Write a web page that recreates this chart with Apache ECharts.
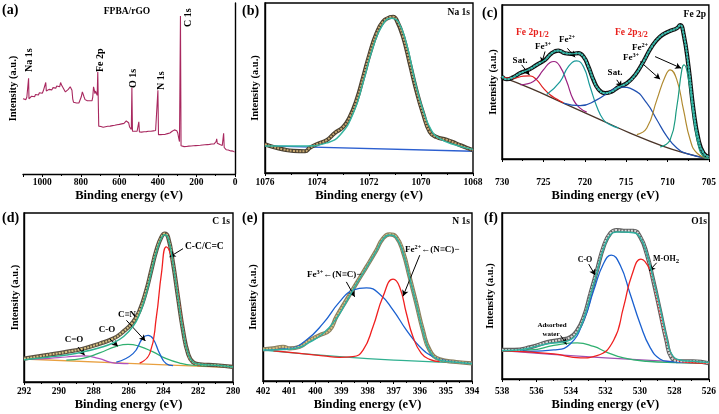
<!DOCTYPE html>
<html><head><meta charset="utf-8">
<script src="https://cdn.jsdelivr.net/npm/echarts@6/dist/echarts.min.js"></script>
<style>html,body{margin:0;padding:0;background:#fff}#c{width:719px;height:414px}</style>
</head><body><div id="c"></div>
<script>
const F = 'Liberation Serif';

// ---------- (a) survey ----------
const aSurvey = [[1100,44],[1095,43.2],[1090,44.5],[1085,43.5],[1080,45],[1075,44],[1073,44.5],[1071,56],[1069,44],[1065,45],[1060,44.2],[1055,45.5],[1050,44.5],[1045,46],[1040,45.2],[1035,46.5],[1030,45.5],[1025,47],[1020,46.2],[1015,47.5],[1010,46.5],[1005,48],[1000,47.2],[995,48.5],[990,47.5],[985,49],[982,53.5],[979,48.5],[975,49],[970,48.2],[965,49.5],[960,48.8],[955,50],[950,49.2],[945,50.5],[940,49.5],[935,51],[930,50.2],[925,51.5],[920,50.5],[915,52],[910,51],[905,53.5],[900,52],[895,51.5],[890,50],[885,49],[880,48],[875,48.5],[870,48.8],[865,49.5],[860,50.5],[855,51],[850,50.5],[846,49],[842,44],[838,42],[834,41.5],[828,41],[822,41.5],[816,41],[810,41.5],[804,42.5],[798,45],[792,48],[788,47.5],[783,45],[778,43.5],[772,42.5],[766,42.8],[760,42.2],[754,42.8],[748,42.3],[742,42.8],[738,45],[734,51],[730,49],[727,47],[724,48.5],[721,49.5],[718,47.5],[715,46],[712,59.8],[709,40],[707,28],[702,27.5],[696,27.8],[690,28],[684,27.3],[678,28.2],[672,27.6],[666,28.5],[660,27.9],[654,28.6],[648,28],[642,28.8],[636,28.3],[630,29],[624,28.5],[618,29.3],[612,28.8],[606,29.5],[600,29],[594,29.8],[588,29.3],[582,30],[576,29.6],[570,30.5],[564,31],[558,30.6],[552,30],[547,27.5],[542,26.5],[538,26],[535,50.5],[532,25],[526,24.6],[520,25],[514,24.4],[508,25],[502,24.5],[499,30.5],[496,24.6],[490,25],[484,24.5],[478,25.2],[472,24.7],[466,25.4],[460,24.8],[454,25.5],[448,25],[442,25.6],[436,25],[430,25.7],[424,25.2],[418,26],[412,25.4],[406,26],[403,25.5],[400,49],[397,23],[392,22.6],[386,23],[380,22.5],[374,23.1],[368,22.6],[362,23.2],[356,23],[350,23.6],[344,23.3],[338,24],[332,24.5],[326,25],[320,25.2],[314,25.8],[308,26],[302,25.3],[297,24],[292,21],[288,19],[285,20],[283,92.4],[280,16.5],[276,16.2],[270,16.5],[264,16],[258,16.6],[252,16.1],[246,16.7],[240,16.3],[234,16.8],[228,16.4],[222,16.9],[216,16.5],[210,17],[204,16.6],[198,17.1],[192,16.7],[186,17.2],[180,16.8],[174,17.3],[168,17],[162,17.4],[156,17.1],[150,17.5],[144,17.2],[138,17.6],[132,17.3],[126,17.8],[120,17.5],[114,17.9],[108,17.6],[102,18],[98,19],[95,20.5],[92,18],[88,17.2],[84,17],[78,17.2],[72,16.8],[66,16.7],[62,17],[59,23.8],[56,15.5],[52,14.5],[46,14.2],[40,14.5],[35,14],[30,13.6],[26,14.6],[22,13.5],[18,14.2],[14,13.6],[10,13.4],[6,13],[2,12.8],[0,12.5]];

// ---------- (b) Na 1s ----------
const bData = [[1076,16.9],[1075.68,15.3],[1075.3,13.9],[1074.91,13.0],[1074.46,12.8],[1074.27,14.9],[1073.95,17.3],[1073.63,19.3],[1073.31,23.6],[1072.99,27.1],[1072.74,33.0],[1072.48,42.8],[1072.22,56.6],[1071.97,70.3],[1071.71,82.1],[1071.46,89.0],[1071.2,91.6],[1071.07,91.9],[1070.94,90.0],[1070.69,80.2],[1070.43,64.4],[1070.18,48.7],[1069.92,35.0],[1069.66,24.2],[1069.41,21.2],[1069.02,19.6],[1068.64,17.3],[1068.26,14.9],[1068,13.4]];
const bFit = [[1076,15.9],[1075,15.9],[1074.4,15.9],[1073.63,17.7],[1073.12,22.2],[1072.61,35.0],[1072.22,53.6],[1071.84,74.3],[1071.46,87.6],[1071.14,91.0],[1070.88,89.0],[1070.56,76.2],[1070.24,54.6],[1069.92,36.9],[1069.6,25.1],[1069.28,20.2],[1068.64,16.3],[1068,13.9]];
const bBack = [[1076,15.9],[1068,12.8]];

// ---------- (c) Fe 2p ----------
const cData = [[730,53.6],[729.44,51.8],[728.63,53.1],[727.82,55.7],[726.81,57.9],[725.81,61.1],[724.8,64.4],[724.0,68.7],[723.19,70.4],[722.38,68.7],[721.57,68.3],[720.77,68.7],[720.16,66.5],[719.56,60.0],[718.95,51.4],[718.35,45.4],[717.54,42.8],[716.73,43.8],[715.93,46.7],[714.92,49.2],[713.91,54.6],[712.9,63.3],[711.9,73.0],[710.89,79.5],[709.88,82.7],[708.87,84.9],[708.47,87.0],[708.07,81.6],[707.46,60.0],[706.86,32.0],[706.25,12.5],[705.65,3.9],[705.0,1.3]];
const cBase = [[730,53.1],[726.61,46.0],[722.58,36.3],[718.55,26.6],[714.52,16.8],[710.49,8.2],[707.66,3.5],[705,0.2]];
const cSat1 = [[730,53.1],[728.63,52.5],[727.42,53.8],[726.61,54.0],[725.81,51.4],[725.0,46.0],[724.19,41.7],[723.39,38.9],[722.58,36.5]];
const cFe3a = [[727.82,48.2],[726.21,50.3],[725.0,57.9],[724.19,62.6],[723.71,63.3],[722.98,60.0],[722.18,50.3],[721.37,38.4],[720.57,33.0],[719.76,30.4]];
const cFe2a = [[724.6,41.9],[722.98,50.3],[721.98,60.0],[720.97,63.7],[720.16,60.0],[719.36,47.1],[718.55,34.1],[717.74,25.5],[716.94,22.2],[715.93,20.1]];
const cSat2 = [[722.58,36.3],[720.57,34.6],[718.55,38.4],[716.94,43.8],[715.73,46.7],[714.11,44.9],[712.5,36.3],[711.29,25.5],[710.08,14.7],[708.87,7.1],[707.66,3.5],[705,0.2]];
const cFe3b = [[713.71,15.8],[712.5,20.1],[711.29,38.4],[710.28,53.6],[709.68,57.9],[708.87,51.4],[708.07,32.0],[707.26,12.5],[706.45,3.9],[705.0,0.2]];
const cFe2b = [[710.89,7.8],[709.68,12.5],[708.87,34.1],[708.27,57.9],[707.99,61.1],[707.46,51.4],[706.86,27.6],[706.25,8.2],[705.65,1.7],[705,0.2]];
const cArrows = [[[727.62,61.1],[726.69,54.6]],[[724.8,69.8],[725.2,62.2]],[[722.1,71.9],[721.17,66.1]],[[716.13,51.4],[715.53,46.7]],[[713.31,63.3],[710.89,51.8]],[[711.5,66.5],[708.35,59.0]]];

// ---------- (d) C 1s ----------
const dData = [[292,13.8],[290.53,16.2],[289.57,17.8],[288.61,19.7],[287.66,22.7],[286.89,25.6],[286.32,29.6],[285.74,35.5],[285.36,42.4],[284.98,54.2],[284.69,66.1],[284.40,77.9],[284.11,85.8],[283.92,87.8],[283.73,85.8],[283.44,70.0],[283.16,50.3],[282.87,30.6],[282.58,16.8],[282.30,11.8],[281.91,10.5],[280.96,9.9],[280,8.9]];
const dFit = [[292,13.2],[290.53,14.8],[289.57,16.0],[288.61,17.8],[287.66,20.3],[286.89,23.1],[286.32,26.6],[285.74,32.9],[285.36,40.4],[284.98,52.3],[284.69,65.1],[284.40,76.9],[284.11,85.2],[283.92,87.2],[283.73,85.4],[283.44,70.0],[283.16,50.3],[282.87,30.6],[282.58,16.8],[282.30,11.8],[281.91,10.5],[280.96,9.9],[280,8.9]];
const dBase = [[292,13.6],[286,11.0],[280,8.5]];
const dCdO = [[291.5,13.5],[290.53,14.0],[289.57,14.8],[288.61,15.4],[287.66,13.8],[287.08,11.8],[286.51,11.0],[286,10.9]];
const dCO = [[289.57,13.0],[288.61,14.0],[287.66,17.2],[286.70,21.1],[286.03,22.3],[285.36,21.1],[284.59,17.8],[283.83,13.8],[283.06,11.2],[282.30,9.9],[281.5,9.6]];
const dCN = [[286.70,11.8],[285.74,16.8],[285.17,26.2],[284.88,27.6],[284.59,25.6],[284.21,16.8],[283.83,10.8],[283.44,9.7]];
const dCC = [[285.36,11.2],[284.78,16.8],[284.40,38.5],[284.11,64.1],[283.83,79.9],[283.54,74.0],[283.25,58.2],[282.97,38.5],[282.68,20.7],[282.39,12.8],[281.91,9.9]];
const dArrows = [[[282.87,78.9],[283.64,74.0]],[[286.12,36.5],[285.03,24.3]],[[287.08,25.6],[286.61,21.1]],[[288.9,20.7],[288.52,15.8]]];

// ---------- (e) N 1s ----------
const eData = [[402,18.8],[401.62,19.4],[401.23,20.4],[400.98,19.4],[400.6,20.4],[400.21,24.4],[399.83,27.3],[399.45,30.3],[399.19,38.2],[398.81,48.1],[398.43,58.0],[398.04,67.9],[397.66,77.8],[397.41,84.8],[397.15,87.3],[396.90,85.7],[396.64,76.8],[396.39,62.0],[396.13,46.1],[395.88,30.3],[395.62,18.4],[395.24,12.9],[394.6,11.3],[394,10.5]];
const eFit = [[402,18.4],[401.23,18.8],[400.6,20.0],[400.34,22.0],[399.70,28.3],[399.19,37.2],[398.81,47.1],[398.43,57.6],[398.04,67.5],[397.66,77.4],[397.41,84.4],[397.15,86.9],[396.90,85.3],[396.64,76.4],[396.39,61.6],[396.13,45.7],[395.88,29.9],[395.62,18.0],[395.24,12.5],[394.6,11.1],[394,10.3]];
const eBase = [[402,18.4],[399.07,14.5],[396.51,12.1],[394,10.5]];
const eFe3 = [[402,18.4],[400.98,19.4],[400.34,24.4],[399.70,34.3],[399.07,47.1],[398.56,54.1],[398.04,55.4],[397.53,51.7],[397.02,42.2],[396.51,30.3],[396.0,20.4],[395.49,14.5],[394.98,12.1],[394,10.5]];
const eFe2 = [[401.6,18.0],[400.6,16.4],[399.7,15.0],[399.07,14.1],[398.56,14.5],[398.17,18.4],[397.79,32.3],[397.41,50.1],[397.02,60.6],[396.77,56.0],[396.51,40.2],[396.26,26.3],[395.94,16.4],[395.62,12.9],[395.24,11.5]];
const eArrows = [[[398.81,59.0],[398.49,50.1]],[[396.0,74.9],[396.64,50.5]]];

// ---------- (f) O 1s ----------
const fData = [[538,17.5],[537.29,17.5],[536.33,19.2],[535.37,22.2],[534.60,23.6],[534.03,25.2],[533.64,29.2],[533.26,37.3],[532.87,51.4],[532.49,65.5],[532.11,79.6],[531.72,87.7],[531.34,89.7],[530.95,89.3],[530.38,89.3],[529.99,85.7],[529.61,75.6],[529.23,59.5],[528.84,41.3],[528.46,23.2],[528.17,13.1],[527.69,10.7],[526.92,10.7],[526,9.5]];
const fFit = [[538,17.1],[537.29,17.3],[536.33,18.8],[535.37,21.2],[534.6,22.2],[534.03,23.6],[533.64,27.6],[533.26,36.3],[532.87,50.4],[532.49,64.5],[532.11,78.6],[531.72,86.7],[531.34,88.5],[530.95,88.5],[530.38,88.1],[529.99,85.3],[529.61,76.0],[529.23,60.5],[528.84,43.3],[528.46,25.2],[528.17,15.1],[527.69,11.5],[526.92,10.7],[526,9.9]];
const fBase = [[538,17.1],[532,12.7],[526,9.5]];
const fWater = [[538,17.1],[536.33,17.5],[534.99,20.2],[533.64,21.8],[532.68,19.6],[531.91,16.1],[530.95,12.7],[529.61,10.7],[527.69,9.9],[526,9.5]];
const fCO = [[537,17.1],[536.33,16.7],[534.99,17.5],[534.03,21.2],[533.26,35.3],[532.68,53.4],[532.11,69.6],[531.66,74.6],[531.14,68.5],[530.57,51.4],[529.99,33.3],[529.42,19.2],[528.84,12.1],[528.27,10.5],[527,9.9]];
const fMOH = [[538,17.1],[535,15.1],[533.45,12.7],[532.49,14.1],[531.53,23.2],[530.95,43.3],[530.47,62.5],[529.94,72.2],[529.42,65.5],[529.03,49.4],[528.65,31.3],[528.27,17.1],[527.88,11.5],[527.31,10.1],[526,9.5]];
const fArrows = [[[532.97,69.2],[532.59,62.5]],[[529.03,70.0],[529.46,65.1]],[[534.6,26.2],[534.26,20.8]]];

// ---------- layout ----------
const grids = [
  {left:23, top:3, width:212, height:171, box:false, min:0, max:1100, iv:200, lm:4, ng:12, yg:4, maxLabel:false},
  {left:265, top:3, width:208, height:170, box:true, min:1068, max:1076, iv:2, lm:5, ng:16, yg:4, maxLabel:true},
  {left:502, top:5, width:207, height:154, box:true, min:705, max:730, iv:5, lm:19, ng:27, yg:3, maxLabel:true},
  {left:24, top:213, width:209, height:169, box:true, min:280, max:292, iv:2, lm:5, ng:16, yg:3, maxLabel:true},
  {left:263, top:213, width:209, height:168, box:true, min:394, max:402, iv:1, lm:6, ng:17, yg:4, maxLabel:true},
  {left:502, top:213, width:207, height:166, box:true, min:526, max:538, iv:2, lm:8, ng:18, yg:6, maxLabel:true}
];

const series = [];
function ln(g, data, color, width, extra) {
  const s = Object.assign({type:'line', xAxisIndex:g, yAxisIndex:g, data:data, symbol:'none', showSymbol:false,
    smooth:0.5, lineStyle:{color:color, width:width}, silent:true, animation:false}, extra||{});
  series.push(s);
}
function measured(g, data, dark, light) {
  ln(g, data, dark, 4.2, {z:2});
  ln(g, data, light, 2, {z:3, lineStyle:{color:light, width:2, type:[2,1.2]}});
}
function arrows(g, list) {
  series.push({type:'line', xAxisIndex:g, yAxisIndex:g, data:[], silent:true, animation:false,
    markLine:{silent:true, animation:false, symbol:['none','arrow'], symbolSize:[5,6],
      lineStyle:{color:'#000', width:1, type:'solid'}, label:{show:false},
      data:list.map(p => [{coord:p[0]},{coord:p[1]}])}});
}

// (a)
ln(0, aSurvey, '#a8285f', 1.1, {smooth:false});
// (b)
ln(1, bBack, '#2c5fd0', 1.3, {z:1});
measured(1, bData, '#4a4030', '#c8a870');
ln(1, bFit, '#35b5a0', 1.5, {z:5});
// (c)
ln(2, cBase, '#4a3428', 1.3, {z:1});
ln(2, cSat1, '#e02020', 1.2);
ln(2, cFe3a, '#9a2080', 1.2);
ln(2, cFe2a, '#1a9a9a', 1.2);
ln(2, cSat2, '#2050b0', 1.2);
ln(2, cFe3b, '#b08a30', 1.2);
ln(2, cFe2b, '#1a9a80', 1.2);
measured(2, cData, '#111111', '#5cc8c0');
ln(2, cData, '#2fb5a5', 1.2, {z:5});
arrows(2, cArrows);
// (d)
ln(3, dBase, '#e8a040', 1.3, {z:1});
ln(3, dCdO, '#b050c0', 1.2);
ln(3, dCO, '#30b070', 1.2);
ln(3, dCN, '#1a60d0', 1.3);
ln(3, dCC, '#f02020', 1.3);
measured(3, dData, '#5a5040', '#d8c080');
ln(3, dFit, '#30b090', 1.5, {z:5});
arrows(3, dArrows);
// (e)
ln(4, eBase, '#30b090', 1.3, {z:1});
ln(4, eFe3, '#1a60d0', 1.3);
ln(4, eFe2, '#f02020', 1.3);
measured(4, eData, '#8a8060', '#d8c080');
ln(4, eFit, '#30b0a0', 1.5, {z:5});
arrows(4, eArrows);
// (f)
ln(5, fBase, '#a050b0', 1.3, {z:1});
ln(5, fWater, '#30b070', 1.3);
ln(5, fCO, '#1a60d0', 1.3);
ln(5, fMOH, '#f02020', 1.3);
measured(5, fData, '#606060', '#d8d8d8');
ln(5, fFit, '#30b0a0', 1.5, {z:5});
arrows(5, fArrows);

const txt = {fontFamily:F, fontWeight:'bold', color:'#000'};
const option = {
  backgroundColor:'#fff', animation:false,
  grid: grids.map(g => ({left:g.left, top:g.top, width:g.width, height:g.height, show:g.box, borderColor:'#000', borderWidth:1.4, backgroundColor:'transparent'})),
  xAxis: grids.map((g,i) => ({type:'value', gridIndex:i, inverse:true, min:g.min, max:g.max, interval:g.iv,
    name:'Binding energy (eV)', nameLocation:'middle', nameGap:g.ng, nameTextStyle:Object.assign({fontSize:12.5}, txt),
    axisLine:{show:true, onZero:false, lineStyle:{color:'#000', width:1.4}},
    axisTick:{show:true, length:3, lineStyle:{color:'#000', width:1}},
    minorTick:{show:true, splitNumber:2, length:2, lineStyle:{color:'#000'}},
    splitLine:{show:false},
    axisLabel:Object.assign({fontSize:9.5, margin:g.lm, showMaxLabel:g.maxLabel, formatter: v => String(v)}, txt)})),
  yAxis: grids.map((g,i) => ({type:'value', gridIndex:i, min:0, max:100,
    name:'Intensity (a.u.)', nameLocation:'middle', nameGap:g.yg, nameTextStyle:Object.assign({fontSize:10.5}, txt),
    axisLine:{show:true, lineStyle:{color:'#000', width:1.4}}, axisTick:{show:false}, axisLabel:{show:false}, splitLine:{show:false}})),
  series: series,
  graphic: []
};

function T(x, y, text, size, opts) {
  opts = opts || {};
  option.graphic.push({type:'text', x:x, y:y, rotation:opts.rot||0, z:100, silent:true,
    style:{text:text, fill:opts.color||'#000', font:'bold '+size+'px "'+F+'"', textAlign:opts.align||'center', textVerticalAlign:'middle', rich:opts.rich}});
}
function R(size, color) {
  const base = {fontFamily:F, fontWeight:'bold', fill:color||'#000', color:color||'#000'};
  return {
    n:Object.assign({fontSize:size}, base),
    sp:Object.assign({fontSize:size*0.7, padding:[0,0,size*0.55,0]}, base),
    sb:Object.assign({fontSize:size*0.85, padding:[size*0.45,0,0,0]}, base)
  };
}
// panel letters
T(2,10,'(a)',14,{align:'left'}); T(242,11,'(b)',14,{align:'left'}); T(482,13,'(c)',14,{align:'left'});
T(2,218,'(d)',14,{align:'left'}); T(242,218,'(e)',14,{align:'left'}); T(484,218,'(f)',14,{align:'left'});
// (a) labels
T(127,12,'FPBA/rGO',9.5);
const rot = Math.PI/2;
T(29,72,'Na 1s',10,{align:'left',rot:rot}); T(100,72,'Fe 2p',10,{align:'left',rot:rot});
T(133,88,'O 1s',10,{align:'left',rot:rot}); T(161,90,'N 1s',10,{align:'left',rot:rot});
T(188,27,'C 1s',10,{align:'left',rot:rot});
// corner titles
T(470,13,'Na 1s',9.5,{align:'right'}); T(706,15,'Fe 2p',9.5,{align:'right'});
T(230,222,'C 1s',9.5,{align:'right'}); T(470,222,'N 1s',9.5,{align:'right'}); T(707,222,'O1s',9.5,{align:'right'});
// (c)
const rc = R(9.5,'#e8201c');
T(516,33,'{n|Fe 2p}{sb|1/2}',9.5,{align:'left',color:'#e8201c',rich:rc});
T(615,33,'{n|Fe 2p}{sb|3/2}',9.5,{align:'left',color:'#e8201c',rich:rc});
const r9 = R(9);
T(520,61,'Sat.',9); T(615,73,'Sat.',9);
T(543,47,'{n|Fe}{sp|3+}',9,{rich:r9}); T(567,40,'{n|Fe}{sp|2+}',9,{rich:r9});
T(631,58,'{n|Fe}{sp|3+}',9,{rich:r9}); T(640,48,'{n|Fe}{sp|2+}',9,{rich:r9});
// (d)
T(185,247,'C-C/C=C',9.5,{align:'left'}); T(127,315,'C≡N',9); T(107,330,'C-O',9); T(74,340,'C=O',9);
// (e)
T(307,275,'{n|Fe}{sp|3+}{n|←(N≡C)−}',9,{align:'left',rich:r9});
T(405,250,'{n|Fe}{sp|2+}{n|←(N≡C)−}',9,{align:'left',rich:r9});
// (f)
const r8 = R(8);
T(585,260,'C-O',8); T(653,259,'{n|M-OH}{sb|2}',8,{align:'left',rich:r8});
T(552,325,'Adsorbed',7); T(551,334,'water',7);

const chart = echarts.init(document.getElementById('c'), null, {renderer:'canvas'});
chart.setOption(option);
</script></body></html>
